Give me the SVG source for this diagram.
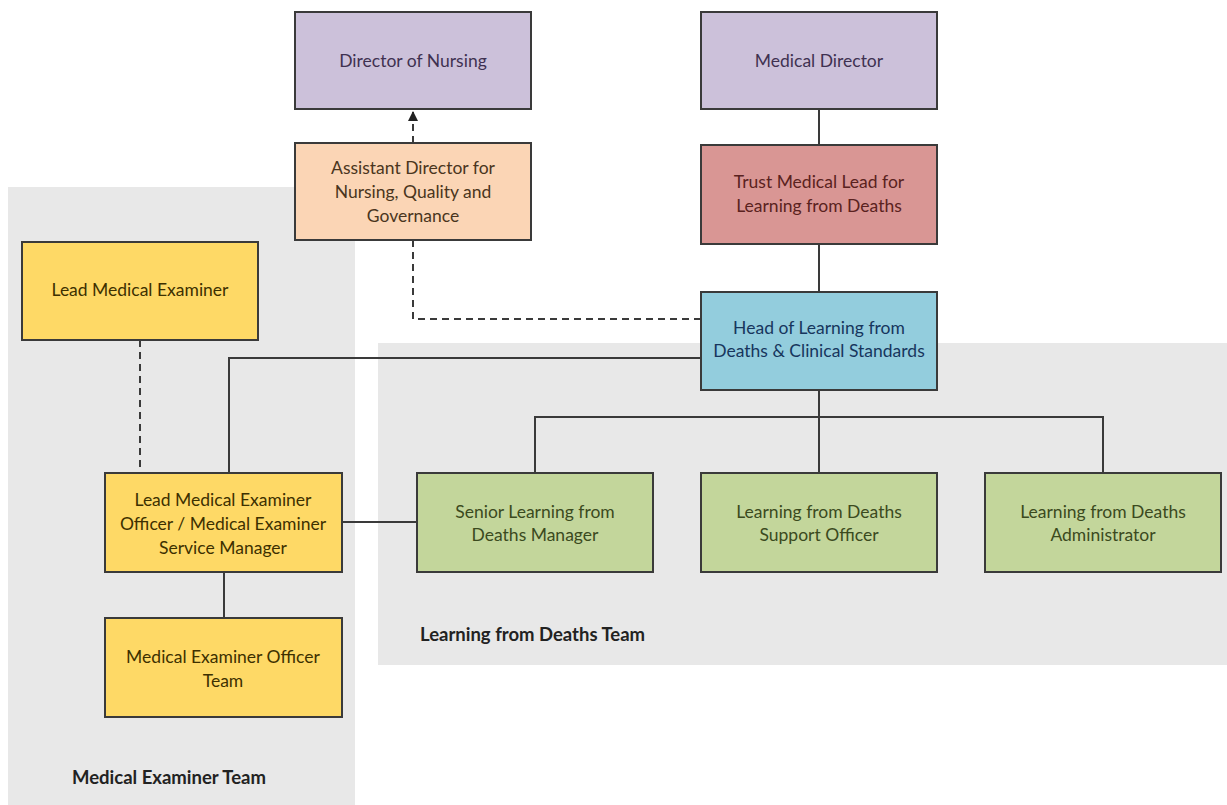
<svg xmlns="http://www.w3.org/2000/svg" width="1227" height="805" viewBox="0 0 1227 805">
<defs>
<style>
.box{stroke:#3a3a3a;stroke-width:2}
.t{font-family:Lato,"Open Sans","Liberation Sans",sans-serif;font-size:17.5px;text-anchor:middle}
.lbl{font-family:Lato,"Open Sans","Liberation Sans",sans-serif;font-size:18.5px;font-weight:bold;fill:#222}
.ln{fill:none;stroke:#3a3a3a;stroke-width:2}
.dash{fill:none;stroke:#3a3a3a;stroke-width:2;stroke-dasharray:7,5}
</style>
<marker id="arr" viewBox="0 0 10 10" refX="9" refY="5" markerWidth="5" markerHeight="5" orient="auto">
<path d="M0,0 L10,5 L0,10 z" fill="#222"/>
</marker>
</defs>
<rect width="1227" height="805" fill="#fff"/>
<g id="team-areas">
<rect x="8" y="187" width="347" height="618" fill="#e8e8e8"/>
<rect x="378" y="343" width="849" height="322" fill="#e8e8e8"/>
<text class="lbl" x="72" y="784">Medical Examiner Team</text>
<text class="lbl" x="420" y="641">Learning from Deaths Team</text>
</g>
<g id="connectors">
<path class="dash" d="M413,143 V112" marker-end="url(#arr)"/>
<path class="dash" d="M413,240 V319 H701"/>
<path class="ln" d="M819,110 V145"/>
<path class="ln" d="M819,245 V292"/>
<path class="ln" d="M229,473 V358 H701"/>
<path class="dash" d="M140,340 V473"/>
<path class="ln" d="M819,390 V417"/>
<path class="ln" d="M535,473 V417 H1103 V473"/>
<path class="ln" d="M819,417 V473"/>
<path class="ln" d="M342,522 H417"/>
<path class="ln" d="M224,572 V618"/>
</g>
<g id="director-of-nursing">
<rect class="box" x="295" y="12" width="236" height="97" fill="#ccc1da"/>
<text class="t" x="413" y="67" fill="#3f3151">Director of Nursing</text>
</g>
<g id="medical-director">
<rect class="box" x="701" y="12" width="236" height="97" fill="#ccc1da"/>
<text class="t" x="819" y="67" fill="#3f3151">Medical Director</text>
</g>
<g id="assistant-director">
<rect class="box" x="295" y="143" width="236" height="97" fill="#fbd5b5"/>
<text class="t" x="413" y="174" fill="#4a3520">Assistant Director for</text>
<text class="t" x="413" y="198" fill="#4a3520">Nursing, Quality and</text>
<text class="t" x="413" y="222" fill="#4a3520">Governance</text>
</g>
<g id="trust-medical-lead">
<rect class="box" x="701" y="145" width="236" height="99" fill="#d99694"/>
<text class="t" x="819" y="188" fill="#5a2220">Trust Medical Lead for</text>
<text class="t" x="819" y="212" fill="#5a2220">Learning from Deaths</text>
</g>
<g id="head-of-learning">
<rect class="box" x="701" y="292" width="236" height="98" fill="#93cddd"/>
<text class="t" x="819" y="334" fill="#17365d">Head of Learning from</text>
<text class="t" x="819" y="357" fill="#17365d">Deaths &amp; Clinical Standards</text>
</g>
<g id="lead-medical-examiner">
<rect class="box" x="22" y="242" width="236" height="98" fill="#fed966"/>
<text class="t" x="140" y="296" fill="#3d3000">Lead Medical Examiner</text>
</g>
<g id="lead-me-officer">
<rect class="box" x="105" y="473" width="237" height="99" fill="#fed966"/>
<text class="t" x="223" y="506" fill="#3d3000">Lead Medical Examiner</text>
<text class="t" x="223" y="530" fill="#3d3000">Officer / Medical Examiner</text>
<text class="t" x="223" y="554" fill="#3d3000">Service Manager</text>
</g>
<g id="me-officer-team">
<rect class="box" x="105" y="618" width="237" height="99" fill="#fed966"/>
<text class="t" x="223" y="663" fill="#3d3000">Medical Examiner Officer</text>
<text class="t" x="223" y="687" fill="#3d3000">Team</text>
</g>
<g id="senior-lfd-manager">
<rect class="box" x="417" y="473" width="236" height="99" fill="#c3d69b"/>
<text class="t" x="535" y="518" fill="#3b4a1e">Senior Learning from</text>
<text class="t" x="535" y="541" fill="#3b4a1e">Deaths Manager</text>
</g>
<g id="lfd-support-officer">
<rect class="box" x="701" y="473" width="236" height="99" fill="#c3d69b"/>
<text class="t" x="819" y="518" fill="#3b4a1e">Learning from Deaths</text>
<text class="t" x="819" y="541" fill="#3b4a1e">Support Officer</text>
</g>
<g id="lfd-administrator">
<rect class="box" x="985" y="473" width="236" height="99" fill="#c3d69b"/>
<text class="t" x="1103" y="518" fill="#3b4a1e">Learning from Deaths</text>
<text class="t" x="1103" y="541" fill="#3b4a1e">Administrator</text>
</g>
</svg>
